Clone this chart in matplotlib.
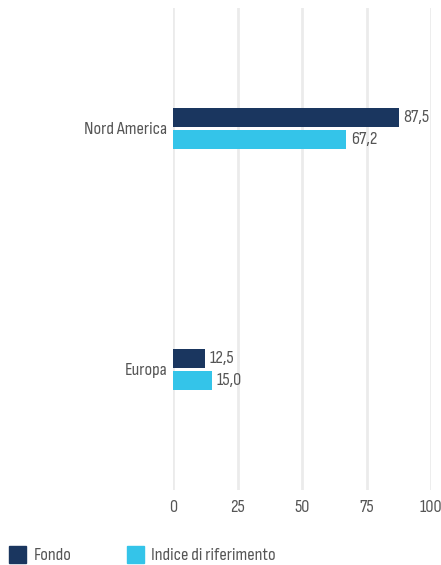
import numpy as np
import matplotlib.pyplot as plt

# data
categories = ['Nord America', 'Europa']
fondo = [87.5, 12.5]
indice = [67.2, 15.0]
series_names = ['Fondo', 'Indice di riferimento']
xticks = [0, 25, 50, 75, 100]

c_fondo = '#1a365f'
c_indice = '#34c4e9'
c_text = '#555555'

plt.rcParams['font.family'] = ['Sofia Sans Condensed', 'DejaVu Sans']
plt.rcParams['font.weight'] = 'light'
fs = 13.2

fig = plt.figure(figsize=(4.41, 5.65), dpi=100)
ax = fig.add_axes([173 / 441, 75 / 565, 258 / 441, 482 / 565])

y = np.arange(len(categories))
h = 0.079
gap = 0.006
ax.barh(y - h / 2 - gap, fondo, height=h, color=c_fondo, zorder=3)
ax.barh(y + h / 2 + gap, indice, height=h, color=c_indice, zorder=3)

for i in range(len(categories)):
    ax.text(fondo[i] + 1.7, y[i] - h / 2 - gap, f'{fondo[i]:.1f}'.replace('.', ','),
            va='center', ha='left', fontsize=fs, color=c_text)
    ax.text(indice[i] + 1.7, y[i] + h / 2 + gap, f'{indice[i]:.1f}'.replace('.', ','),
            va='center', ha='left', fontsize=fs, color=c_text)

ax.set_xlim(0, 100)
ax.set_ylim(1.5, -0.5)
ax.set_xticks(xticks)
ax.set_xticklabels([str(t) for t in xticks], fontsize=fs, color=c_text)
ax.set_yticks(y)
ax.set_yticklabels(categories, fontsize=fs, color=c_text)
ax.tick_params(length=0, pad=4)
ax.tick_params(axis='x', pad=7)
ax.grid(axis='x', color='#ebebeb', linewidth=2, zorder=0)
for s in ax.spines.values():
    s.set_visible(False)

# legend drawn in figure coords
fig.patches.append(plt.Rectangle((9 / 441, 1 - 563 / 565), 17 / 441, 17 / 565,
                                 transform=fig.transFigure, color=c_fondo))
fig.text(34 / 441, 1 - 555 / 565, series_names[0], va='center', fontsize=fs, color=c_text)
fig.patches.append(plt.Rectangle((127 / 441, 1 - 563 / 565), 17 / 441, 17 / 565,
                                 transform=fig.transFigure, color=c_indice))
fig.text(151 / 441, 1 - 555 / 565, series_names[1], va='center', fontsize=fs, color=c_text)

fig.savefig('out.png', dpi=100)
